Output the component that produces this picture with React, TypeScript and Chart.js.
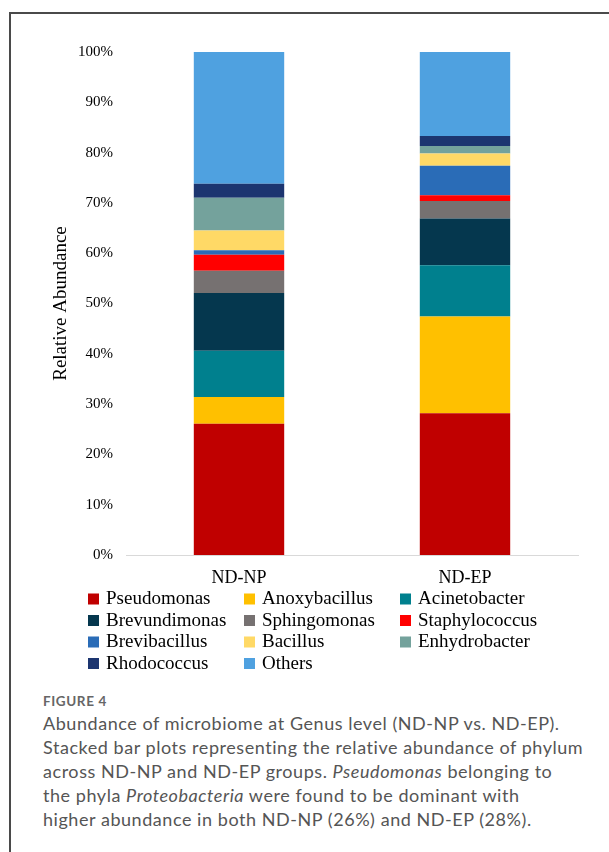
import React, { useEffect, useRef } from 'react';
import { Chart, registerables } from 'chart.js';

Chart.register(...registerables);

// ---- data ----
const categories = ['ND-NP', 'ND-EP'];
const genera = [
  'Pseudomonas',
  'Anoxybacillus',
  'Acinetobacter',
  'Brevundimonas',
  'Sphingomonas',
  'Staphylococcus',
  'Brevibacillus',
  'Bacillus',
  'Enhydrobacter',
  'Rhodococcus',
  'Others',
];
const ndNpValues = [26.1, 5.3, 9.2, 11.5, 4.4, 3.2, 0.9, 3.9, 6.5, 2.8, 26.2];
const ndEpValues = [28.2, 19.2, 10.2, 9.3, 3.5, 1.1, 5.9, 2.4, 1.5, 2.0, 16.7];
const yTickStep = 10;
const yMax = 100;

// ---- styles ----
const genusColors = [
  '#C00000',
  '#FFC000',
  '#00808E',
  '#05374E',
  '#767171',
  '#FF0000',
  '#2A6CB7',
  '#FFD966',
  '#74A29C',
  '#1C3570',
  '#4FA1E0',
];
const SERIF = '"Liberation Serif", "Times New Roman", serif';

const gridLegend = {
  id: 'gridLegend',
  afterDraw(chart: any) {
    const ctx = chart.ctx;
    ctx.save();
    ctx.font = `19px ${SERIF}`;
    ctx.textBaseline = 'alphabetic';
    ctx.textAlign = 'left';
    genera.forEach((g, i) => {
      const col = i % 3;
      const row = Math.floor(i / 3);
      const bx = 88 + col * 156;
      const by = 604 + row * 21.5;
      ctx.fillStyle = genusColors[i];
      ctx.fillRect(bx, by - 10.5, 11, 11);
      ctx.fillStyle = '#000';
      ctx.fillText(g, bx + 18, by);
    });
    ctx.restore();
  },
};

function BarChart() {
  const ref = useRef<HTMLCanvasElement | null>(null);
  useEffect(() => {
    if (!ref.current) return;
    const chart = new Chart(ref.current, {
      type: 'bar',
      data: {
        labels: categories,
        datasets: genera.map((g, i) => ({
          label: g,
          data: [ndNpValues[i], ndEpValues[i]],
          backgroundColor: genusColors[i],
          borderWidth: 0,
          categoryPercentage: 1,
          barPercentage: 0.4,
        })),
      },
      options: {
        animation: false,
        responsive: false,
        devicePixelRatio: 1,
        layout: { padding: { top: 52, right: 31, left: 0, bottom: 0 } },
        plugins: {
          legend: { display: false },
          tooltip: { enabled: false },
        },
        scales: {
          x: {
            stacked: true,
            grid: { display: false, drawTicks: false },
            border: { display: true, color: '#d9d9d9', width: 1 },
            ticks: { color: '#000', font: { family: SERIF, size: 18 }, padding: 12 },
            afterFit: (s: any) => {
              s.height = 125;
            },
          },
          y: {
            stacked: true,
            min: 0,
            max: yMax,
            grid: { display: false, drawTicks: false },
            border: { display: false },
            ticks: {
              stepSize: yTickStep,
              color: '#000',
              font: { family: SERIF, size: 15 },
              padding: 13,
              callback: (v: any) => `${v}%`,
            },
            title: {
              display: true,
              text: 'Relative Abundance',
              color: '#000',
              font: { family: SERIF, size: 19 },
              padding: { top: 50, bottom: 0 },
            },
            afterFit: (s: any) => {
              s.width = 126;
            },
          },
        },
      },
      plugins: [gridLegend],
    });
    return () => chart.destroy();
  }, []);
  return <canvas ref={ref} width={609} height={680} style={{ position: 'absolute', left: 0, top: 0 }} />;
}

export default function App() {
  const caption: React.CSSProperties = {
    position: 'absolute',
    left: 43,
    top: 711,
    fontFamily: 'Lato, "Open Sans", sans-serif',
    fontSize: 18,
    letterSpacing: '0.55px',
    lineHeight: '24px',
    color: '#555',
    whiteSpace: 'nowrap',
  };
  return (
    <div style={{ position: 'absolute', left: 0, top: 0, width: 609, height: 852, background: '#fff', overflow: 'hidden' }}>
      <div
        style={{
          position: 'absolute',
          left: 9,
          top: 12,
          width: 620,
          height: 900,
          borderTop: '2px solid #4a4a4a',
          borderLeft: '2px solid #4a4a4a',
        }}
      />
      <BarChart />
      <div
        style={{
          position: 'absolute',
          left: 43,
          top: 693,
          fontFamily: 'Lato, "Open Sans", sans-serif',
          fontSize: 13.5,
          letterSpacing: '0.6px',
          lineHeight: '16px',
          fontWeight: 700,
          color: '#666',
        }}
      >
        FIGURE 4
      </div>
      <div style={caption}>
        Abundance of microbiome at Genus level (ND-NP vs. ND-EP).
        <br />
        Stacked bar plots representing the relative abundance of phylum
        <br />
        across ND-NP and ND-EP groups. <i>Pseudomonas</i> belonging to
        <br />
        the phyla <i>Proteobacteria</i> were found to be dominant with
        <br />
        higher abundance in both ND-NP (26%) and ND-EP (28%).
      </div>
    </div>
  );
}
